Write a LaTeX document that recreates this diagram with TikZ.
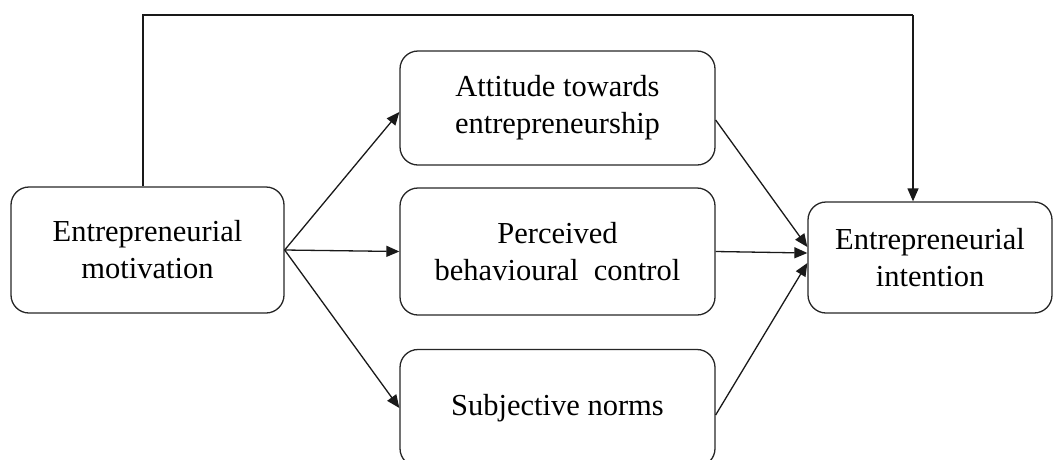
\documentclass[tikz,border=0pt]{standalone}
\usepackage{fontspec}
\setmainfont{Liberation Serif}
\usetikzlibrary{arrows.meta}
\begin{document}
\begin{tikzpicture}[x=1pt,y=-1pt,
  box/.style={draw=black!85, line width=1.3pt, rounded corners=18pt, inner sep=0pt,
    align=center, font=\fontsize{30.5}{37}\selectfont},
  conn/.style={line width=1.3pt, draw=black!90},
  arr/.style={conn, -{Triangle[length=13pt,width=11pt]}}]
\useasboundingbox (0,0) rectangle (1054,459);
\clip (0,0) rectangle (1054,459);
\node[box, minimum width=273pt, minimum height=126pt] (left) at (147.5,250) {Entrepreneurial\\motivation};
\node[box, minimum width=315pt, minimum height=114pt] (att) at (557.5,108) {Attitude towards\\entrepreneurship};
\node[box, minimum width=315pt, minimum height=127pt] (per) at (557.5,251.5) {Perceived\\behavioural\ \ control};
\node[box, minimum width=315pt, minimum height=117pt] (sub) at (557.5,408) {Subjective norms};
\node[box, minimum width=244pt, minimum height=111pt] (right) at (930,257.5) {Entrepreneurial\\intention};
\coordinate (tl) at (143,15);
\coordinate (tr) at (913,15);
\draw[conn] (left.north -| tl) -- (tl) -- (tr);
\draw[arr] (tr) -- (tr |- right.north);
\draw[arr] (left.east) -- ([yshift=-4pt]att.west);
\draw[arr] (left.east) -- (per.west);
\draw[arr] (left.east) -- (sub.west);
\draw[arr] ([yshift=-12pt]att.east) -- ([yshift=10.5pt]right.west);
\draw[arr] (per.east) -- ([yshift=4.5pt]right.west);
\draw[arr] ([yshift=-7pt]sub.east) -- ([yshift=-5.5pt]right.west);
\end{tikzpicture}
\end{document}
